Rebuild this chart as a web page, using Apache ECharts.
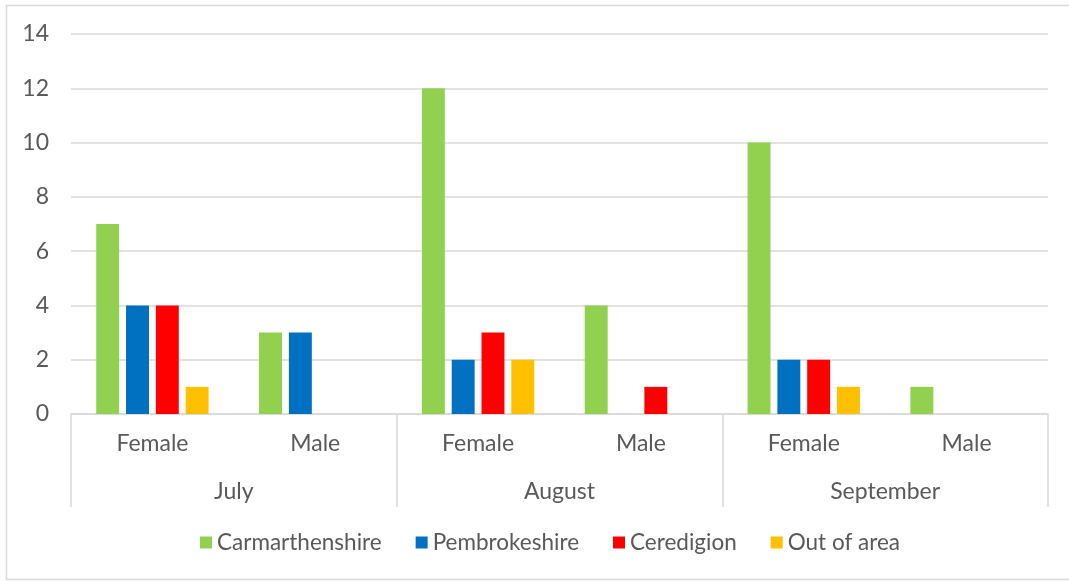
<!DOCTYPE html>
<html lang="en">
<head>
    <meta charset="UTF-8">
    <title>Referrals by area, gender and month</title>
    <script src="https://cdn.jsdelivr.net/npm/echarts@6/dist/echarts.min.js"></script>
    <style>
        html, body { margin: 0; padding: 0; background: #fff; }
        #chart { width: 1069px; height: 581px; }
    </style>
</head>
<body>
    <div id="chart"></div>
    <script>
        const genders = ['Female', 'Male', 'Female', 'Male', 'Female', 'Male'];
        const months = ['July', 'August', 'September'];
        const carmarthenshire = [7, 3, 12, 4, 10, 1];
        const pembrokeshire = [4, 3, 2, 0, 2, 0];
        const ceredigion = [4, 0, 3, 1, 2, 0];
        const outOfArea = [1, 0, 2, 0, 1, 0];

        const font = 'Lato, "Noto Sans", sans-serif';
        const textColor = '#595959';
        const lineColor = '#d9d9d9';

        function barSeries(name, values, color) {
            return {
                name: name,
                type: 'bar',
                data: values,
                barGap: '30%',
                barCategoryGap: '31%',
                itemStyle: { color: color },
                emphasis: { disabled: true }
            };
        }

        const chart = echarts.init(document.getElementById('chart'));
        chart.setOption({
            animation: false,
            textStyle: { fontFamily: font },
            graphic: [{
                type: 'rect',
                shape: { x: 6.5, y: 5.5, width: 1070, height: 574 },
                style: { fill: 'none', stroke: lineColor, lineWidth: 1.5 },
                silent: true
            }],
            grid: { left: 71, right: 21, top: 34, bottom: 167 },
            legend: {
                bottom: 22,
                left: 195,
                itemWidth: 12,
                itemHeight: 12,
                itemGap: 34,
                icon: 'rect',
                textStyle: { color: textColor, fontSize: 22.5, fontFamily: font },
                data: ['Carmarthenshire', 'Pembrokeshire', 'Ceredigion', 'Out of area']
            },
            xAxis: [{
                type: 'category',
                data: genders,
                axisLine: { lineStyle: { color: lineColor, width: 1.5 } },
                axisTick: { show: false },
                axisLabel: { color: textColor, fontSize: 23, margin: 18, interval: 0 }
            }, {
                type: 'category',
                data: months,
                position: 'bottom',
                offset: 93,
                axisLine: { show: false },
                axisTick: {
                    show: true,
                    inside: true,
                    length: 93,
                    lineStyle: { color: lineColor, width: 1.5 }
                },
                axisLabel: { color: textColor, fontSize: 23, inside: true, margin: 4, interval: 0 }
            }],
            yAxis: {
                type: 'value',
                min: 0,
                max: 14,
                interval: 2,
                axisLine: { show: false },
                axisTick: { show: false },
                axisLabel: { color: textColor, fontSize: 23, margin: 22 },
                splitLine: { lineStyle: { color: lineColor, width: 1.5 } }
            },
            series: [
                barSeries('Carmarthenshire', carmarthenshire, '#92d050'),
                barSeries('Pembrokeshire', pembrokeshire, '#0070c0'),
                barSeries('Ceredigion', ceredigion, '#ff0000'),
                barSeries('Out of area', outOfArea, '#ffc000')
            ]
        });
    </script>
</body>
</html>
